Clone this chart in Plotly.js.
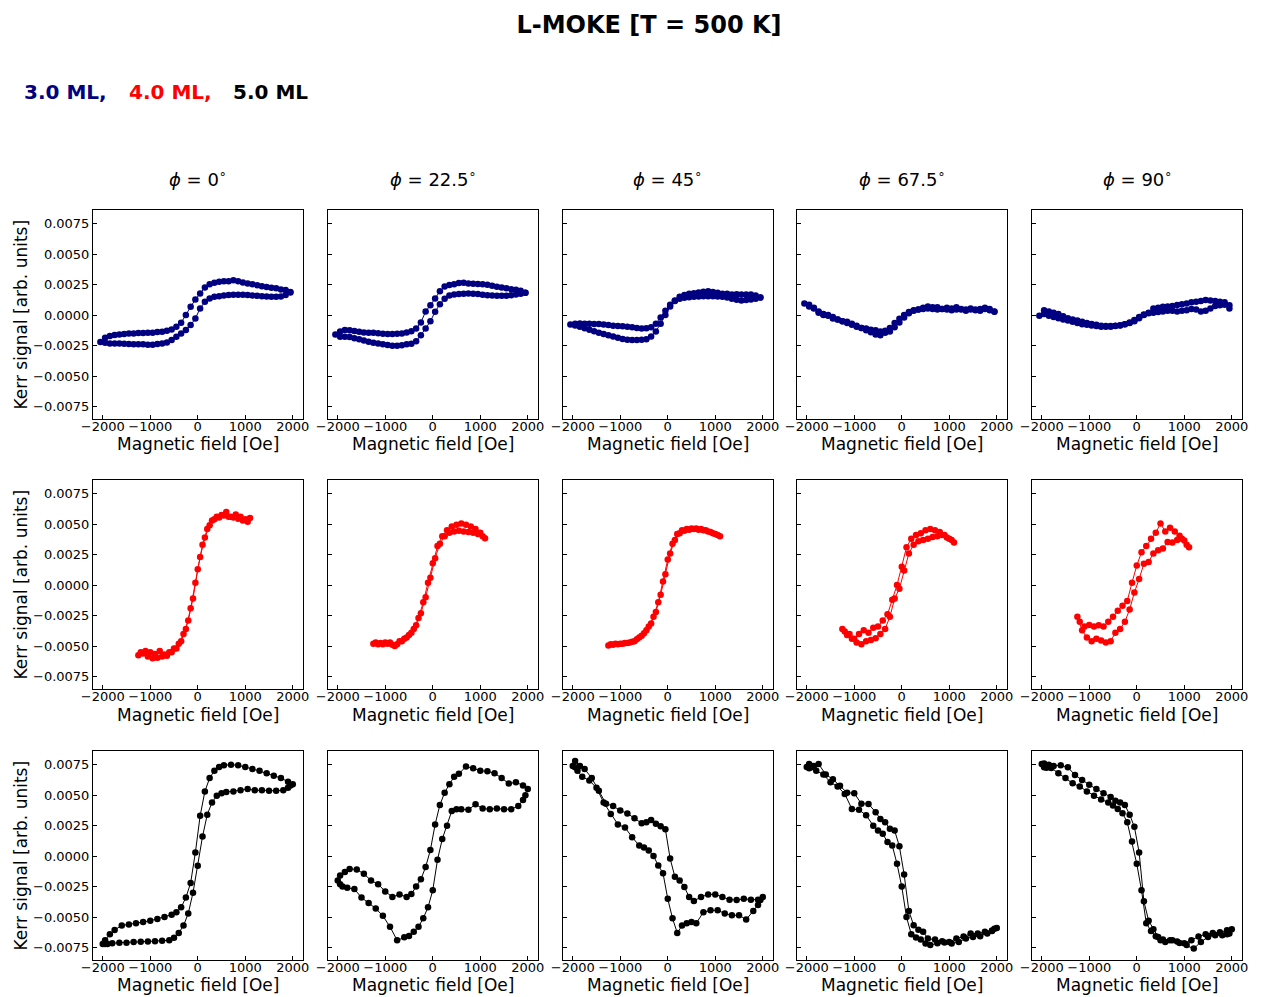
<!DOCTYPE html>
<html>
<head>
<meta charset="utf-8">
<script src="https://cdn.plot.ly/plotly-3.0.1.min.js"></script>
<style>
  html, body { margin: 0; padding: 0; background: #fff; }
  #chart { width: 1263px; height: 997px; }
</style>
</head>
<body>
<div id="chart"></div>
<script>
// Kerr signal values below are written in units of 1e-4 (arb. units)
const KERR_UNIT = 1e-4;

const angleLabels = ['0', '22.5', '45', '67.5', '90'];
const thicknessLabels = ['3.0 ML,', '4.0 ML,', '5.0 ML'];
const thicknessColors = ['#000080', '#ff0000', '#000000'];

// ---------- 3.0 ML : field sweep (Oe) ----------
const fieldDown3 = [1950,1850,1750,1650,1550,1450,1350,1250,1150,1050,950,850,750,650,550,450,350,250,150,50,-50,-150,-250,-350,-450,-550,-650,-750,-850,-950,-1050,-1150,-1250,-1350,-1450,-1550,-1650,-1750,-1850,-1950,-2050];
const fieldUp3 = [-1950,-1850,-1750,-1650,-1550,-1450,-1350,-1250,-1150,-1050,-950,-850,-750,-650,-550,-450,-350,-250,-150,-50,50,150,250,350,450,550,650,750,850,950,1050,1150,1250,1350,1450,1550,1650,1750,1850,1950];

const ml3_phi0_down = [19,20.5,21,22,22.4,23,23.7,24.5,25.4,26,26.7,27.8,28.6,27.8,27.8,27.3,26.5,25.4,22.6,17.7,12.8,6.8,0,-6.3,-9.5,-11.7,-12.8,-13.6,-13.9,-14.5,-14.5,-14.7,-14.7,-15,-15,-15.5,-15.8,-16.4,-17.2,-18.5,-22];
const ml3_phi0_up = [-22.6,-23.2,-23.2,-23.2,-23.5,-23.7,-24,-24,-24,-24.3,-24.3,-23.7,-23.2,-22.4,-20.5,-17.7,-15,-12.3,-8.2,-2.7,5.5,10.9,13.6,15,15.5,16.1,16.4,16.6,16.6,16.6,16.4,16.1,15.8,15.5,15.3,15,15,15.3,16.4,18.5];
const ml3_phi22_down = [18.3,20,20.8,21.3,22,22.6,23.2,24,24.8,25.4,25.6,25.8,26,26.5,26.3,25.4,24.7,23.5,19.5,13.6,8,3,-6,-11,-13.3,-14.2,-15,-15.3,-15.5,-15.5,-15.2,-14.8,-14.5,-14.5,-14.2,-13.6,-13,-12.5,-12.3,-13.5,-16];
const ml3_phi22_up = [-17.7,-17.7,-18,-19,-19.8,-20.8,-21.8,-22.6,-23.2,-23.8,-24.5,-25.2,-25.2,-24.8,-23.8,-23.5,-21.5,-16.5,-11,-5,2.7,9,13.5,16,16.8,17.3,17.5,17.7,17.6,17.3,16.6,16.3,16,15.8,15.8,15.9,16.3,16.8,17.5,18.3];
const ml3_phi45_down = [14.5,16,16.8,17,17,17.2,17,17.5,17.5,18.3,19,19.6,19.1,18.5,18,17.5,16.5,15,12,8.5,3.5,-2,-7,-10,-10.8,-11,-10.5,-10,-9.5,-9.2,-9,-8.8,-8.2,-7.6,-7.3,-7.2,-7,-7,-6.8,-7,-7.8];
const ml3_phi45_up = [-8.5,-9.5,-10.8,-12,-13.2,-14.5,-15.5,-16.5,-17.5,-18.5,-19.6,-20.3,-20.5,-20.5,-20.3,-19.8,-17.5,-13.5,-7,0,7,11.5,13.5,14.3,14.7,15,15.3,15.5,15.5,15.5,15.3,15,14.5,13.5,12.5,12,12.3,12.8,13.5,14.5];
const ml3_phi67_down = [2.7,5,6,5,4.5,5.5,4.5,5,6.5,5.5,6,5,6.5,6.5,7,6,4.5,4,2.5,0,-3,-6.5,-10.5,-12.8,-13.5,-12.5,-12,-11,-10.5,-8.7,-7,-5.5,-5,-3.6,-2.7,-0.5,0,2,5.5,8.5,9.5];
const ml3_phi67_up = [7,6,3,1,0,-1.5,-3.5,-5,-6.5,-8,-9.5,-10.5,-12.5,-14,-16,-16.5,-14.5,-13.5,-10,-6,-2,1.5,3.5,4.5,5,5.5,5,4.5,5,4.5,4,4.5,4.5,3.6,4.5,4,3.5,5,4,3];
const ml3_phi90_down = [5.5,10.5,11,11.5,12,12.3,11.5,11,10.5,9.5,9,8.2,7.5,7,6.8,6,5.5,2,0,-2.5,-5,-6.5,-7.5,-8.3,-8.8,-9,-9,-8.8,-8,-7.3,-6.5,-5.5,-4.5,-3.5,-2.5,-1,1,2,3,4,-0.5];
const ml3_phi90_up = [1,-0.5,-1.5,-2.5,-3.5,-4.5,-5.5,-6.5,-7.5,-8,-8.5,-9,-9.5,-9.5,-9.5,-9,-8.5,-7.5,-6,-4,-1.5,0.5,1.5,2,2.5,3,3.5,3.5,3,3.5,4,5,4.5,3,3.5,5.5,7.5,8,8.5,8];

// ---------- 4.0 ML : field sweep (Oe) ----------
const fieldDown4 = [1100,1000,900,800,700,600,500,400,300,200,100,0,-100,-200,-300,-400,-500,-600,-700,-800,-900,-1000,-1100,-1200];
const fieldUp4 = [-1250,-1150,-1050,-950,-850,-750,-650,-550,-450,-350,-250,-150,-50,50,150,250,350,450,550,650,750,850,950,1050];

const ml4_phi0_down = [55,54,56,58,56,60,57.5,56,53,46,33,13,-11,-29,-40,-48,-52,-55,-57,-54,-56.5,-55,-54,-55];
const ml4_phi0_up = [-57.5,-56,-58.5,-60,-59.5,-58.5,-58,-55,-52,-46,-36,-19,2,23,39,49,54,55.5,57,56,55.5,54.5,53,52];
const ml4_phi22_down = [38.5,43,46,48,49.5,50.5,49.5,48,45,40,32,18,2,-14,-27,-36,-41,-44,-46,-50,-47,-47,-47.5,-47];
const ml4_phi22_up = [-48,-48.5,-48.5,-48,-49,-48.5,-46,-43,-39,-33,-23,-10,6,22,34,40,43,44,44.5,44,43.5,43,42,40];
const ml4_phi45_down = [40,42,43.5,45,46,46.5,46.5,46,45,42,34,21,3,-14,-26,-34,-39.5,-43,-46,-47,-47.5,-48,-48,-48.5];
const ml4_phi45_up = [-49.5,-49,-48.5,-48,-47.5,-46.5,-44.5,-41.5,-37,-31.5,-22,-8,9,26,37,42.5,44.5,45.5,46,45.5,45,44,42.5,41];
const ml4_phi67_down = [35,38,41,43.5,45,46,45,42.5,41,38,31,15,0,-12,-24,-29,-34,-35,-39,-37,-40,-44,-40,-38];
const ml4_phi67_up = [-36,-41,-44,-47,-48.5,-46,-45,-43.5,-40,-36,-26,-11,-3,12,26,33,36,37,38,39.5,40,41,39,37];
const ml4_phi90_down = [31,36.5,40.5,44,47,44,50.5,43,38,32,27,16,2,-13,-17,-21,-26,-30,-34,-33,-34,-32.7,-34,-30];
const ml4_phi90_up = [-26,-37,-43,-46,-44,-45.5,-47,-46,-39,-36,-30,-20,-6,5,17.5,19,26,28.5,30,35.4,35,37,38,33];

// ---------- 5.0 ML : field sweep (Oe) ----------
const fieldDown5 = [2000,1900,1750,1600,1450,1300,1150,1000,850,700,550,450,350,250,150,50,-50,-150,-250,-350,-450,-550,-700,-850,-1000,-1150,-1300,-1450,-1600,-1750,-1850,-1950,-2000];
const fieldUp5 = [-1950,-1900,-1800,-1650,-1500,-1350,-1200,-1050,-900,-750,-600,-500,-400,-300,-200,-100,0,100,200,300,400,500,600,750,900,1050,1200,1350,1500,1650,1800,1900,1950];

const ml5_phi0_down = [59,61,64,66,68,70,71.5,73,74.5,75,74.5,73,70,64,53,33,3,-22,-34,-42,-46,-48,-50,-51.5,-53,-54,-55,-56,-57,-60.5,-64,-69,-72];
const ml5_phi0_up = [-72,-72,-71.5,-71,-71,-70.5,-70.3,-70,-69.8,-69.5,-69,-67,-63,-57,-47,-30,-8,16,34,44,49.5,51.5,52.5,53,54,55,54,54,53.5,53.5,54,56,58];
const ml5_phi22_down = [55,58,60.5,59.5,64,68,69.5,70,72,73.5,67.5,65,59,52,42,26,5,-9,-19,-25,-31,-33.5,-31.5,-33.5,-29,-23,-20,-14.5,-11,-10.5,-13,-16,-20];
const ml5_phi22_up = [-23,-25,-26,-27,-34,-38.5,-43,-49,-58,-69,-66.5,-65.5,-62,-58,-51,-42,-28,-3,14,25,37,38.5,38.5,38,42.5,39,38.5,39,38.5,38.5,41,46,50];
const ml5_phi45_down = [-33.5,-35.7,-35.7,-35,-36,-35.7,-33.5,-31.4,-31.4,-33.5,-36.8,-33.5,-25.4,-20,-17,-2,22,24.5,26.5,29.7,27.8,27,31,35,37.4,41,43,53.7,64,71.4,74,78,74];
const ml5_phi45_up = [72.8,70,65,62,56,44,34.6,26,23.5,15.5,8.7,7,4.6,0,-7.6,-14,-35,-51,-63,-57,-55,-54,-55,-46,-44.5,-44.5,-47,-48.5,-48.5,-52,-45,-40,-36];
const ml5_phi67_down = [-59,-61,-62,-63.5,-63.5,-66,-67.6,-70.4,-69.8,-68.4,-67.6,-62,-60.3,-56.7,-45,-15,8,21,22.4,27.8,30.5,36,42.8,43,51.5,52,57.8,63,67,75.5,74,75.5,73];
const ml5_phi67_up = [72,72.8,70,67,60.5,57,51,38.7,38,33.5,25,21,18.3,11.5,8.7,-6.3,-25,-50,-64,-66.8,-68.4,-71.7,-73,-71.5,-70.9,-71.7,-70.4,-67.6,-66.3,-65.7,-63.5,-61.5,-59.5];
const ml5_phi90_down = [-60,-60.8,-62.5,-63,-64,-66,-69,-71.5,-70,-69,-68.4,-66.3,-60,-53,-37,3,24,34,42,44,45.5,48.5,51.5,55,58.5,62.5,66.5,72.8,74.5,74,75,76,75.5];
const ml5_phi90_up = [72.8,72.5,72.3,68,64,59.7,57,53,49.6,46.5,44,41.5,38.7,35.2,27.8,12,-6.3,-28,-55,-61.4,-65.7,-69,-70.4,-69,-71.2,-73,-75.8,-70.4,-66.3,-65,-65,-64,-63.5];

// Axis ticks shared by every panel
const fieldTicks = [-2000, -1000, 0, 1000, 2000];
const fieldTickText = ['\u22122000', '\u22121000', '0', '1000', '2000'];
const kerrTicks = [0.0075, 0.005, 0.0025, 0, -0.0025, -0.005, -0.0075];
const kerrTickText = ['0.0075', '0.0050', '0.0025', '0.0000', '\u22120.0025', '\u22120.0050', '\u22120.0075'];

// Group the loops by row (thickness) and column (azimuth angle)
const rows = [
  { fieldDown: fieldDown3, fieldUp: fieldUp3,
    loops: [[ml3_phi0_down, ml3_phi0_up], [ml3_phi22_down, ml3_phi22_up], [ml3_phi45_down, ml3_phi45_up], [ml3_phi67_down, ml3_phi67_up], [ml3_phi90_down, ml3_phi90_up]] },
  { fieldDown: fieldDown4, fieldUp: fieldUp4,
    loops: [[ml4_phi0_down, ml4_phi0_up], [ml4_phi22_down, ml4_phi22_up], [ml4_phi45_down, ml4_phi45_up], [ml4_phi67_down, ml4_phi67_up], [ml4_phi90_down, ml4_phi90_up]] },
  { fieldDown: fieldDown5, fieldUp: fieldUp5,
    loops: [[ml5_phi0_down, ml5_phi0_up], [ml5_phi22_down, ml5_phi22_up], [ml5_phi45_down, ml5_phi45_up], [ml5_phi67_down, ml5_phi67_up], [ml5_phi90_down, ml5_phi90_up]] }
];

// Page geometry (pixels)
const W = 1263, H = 997;
const colLeft = [93, 328, 563, 797, 1032];
const panelW = 210;
const rowTop = [210, 480, 751];
const panelH = 209;
const xTitleY = [444, 715, 985];
const FONT = 'DejaVu Sans, sans-serif';

const px = v => v / W;
const py = v => 1 - v / H;

const traces = [];
const layout = {
  width: W, height: H,
  margin: { l: 0, r: 0, t: 0, b: 0 },
  paper_bgcolor: '#ffffff',
  plot_bgcolor: '#ffffff',
  showlegend: false,
  font: { family: FONT, color: '#000000' },
  title: {
    text: '<b>L-MOKE [T = 500 K]</b>',
    x: px(649), xanchor: 'center',
    y: py(25), yanchor: 'middle',
    font: { family: FONT, size: 24, color: '#000000' }
  },
  annotations: []
};

rows.forEach((row, r) => {
  row.loops.forEach((loop, c) => {
    const n = r * 5 + c + 1;
    const xa = n === 1 ? 'x' : 'x' + n;
    const ya = n === 1 ? 'y' : 'y' + n;
    traces.push({
      type: 'scatter', mode: 'lines+markers',
      x: row.fieldDown.concat(row.fieldUp),
      y: loop[0].concat(loop[1]).map(v => v * KERR_UNIT),
      xaxis: xa, yaxis: ya,
      line: { color: thicknessColors[r], width: 1 },
      marker: { color: thicknessColors[r], size: 6.5, line: { width: 0 } },
      hoverinfo: 'x+y'
    });
    const common = {
      showline: true, mirror: true, linecolor: '#000000', linewidth: 1,
      showgrid: false, zeroline: false,
      ticks: 'inside', ticklen: 4, tickwidth: 1, tickcolor: '#000000',
      tickfont: { family: FONT, size: 13, color: '#000000' },
      fixedrange: true
    };
    layout['xaxis' + (n === 1 ? '' : n)] = Object.assign({}, common, {
      domain: [px(colLeft[c]), px(colLeft[c] + panelW)],
      anchor: ya,
      range: [-2205, 2215],
      tickmode: 'array', tickvals: fieldTicks, ticktext: fieldTickText,
      ticklabelstandoff: -5
    });
    layout['yaxis' + (n === 1 ? '' : n)] = Object.assign({}, common, {
      domain: [py(rowTop[r] + panelH), py(rowTop[r])],
      anchor: xa,
      range: [-0.00852, 0.00862],
      tickmode: 'array', tickvals: kerrTicks, ticktext: kerrTickText,
      showticklabels: c === 0
    });
    // x-axis title under every panel
    layout.annotations.push({
      text: 'Magnetic field [Oe]', xref: 'paper', yref: 'paper',
      x: px(colLeft[c] + panelW / 2), y: py(xTitleY[r]),
      xanchor: 'center', yanchor: 'middle', showarrow: false,
      font: { family: FONT, size: 17, color: '#000000' }
    });
  });
  // y-axis title on the first column
  layout.annotations.push({
    text: 'Kerr signal [arb. units]', xref: 'paper', yref: 'paper',
    x: px(20), y: py(rowTop[r] + panelH / 2), textangle: -90,
    xanchor: 'center', yanchor: 'middle', showarrow: false,
    font: { family: FONT, size: 17, color: '#000000' }
  });
});

// Column headers: azimuth angle
angleLabels.forEach((a, c) => {
  layout.annotations.push({
    text: '<i>\u03d5</i> = ' + a + '<sup>\u2218</sup>', xref: 'paper', yref: 'paper',
    x: px(colLeft[c] + panelW / 2), y: py(178),
    xanchor: 'center', yanchor: 'middle', showarrow: false,
    font: { family: FONT, size: 18, color: '#000000' }
  });
});

// Coloured thickness key
const keyX = [22, 127, 231];
thicknessLabels.forEach((t, i) => {
  layout.annotations.push({
    text: '<b>' + t + '</b>', xref: 'paper', yref: 'paper',
    x: px(keyX[i]), y: py(92),
    xanchor: 'left', yanchor: 'middle', showarrow: false,
    font: { family: FONT, size: 20, color: thicknessColors[i] }
  });
});

Plotly.newPlot('chart', traces, layout, { staticPlot: true, displayModeBar: false });
</script>
</body>
</html>
